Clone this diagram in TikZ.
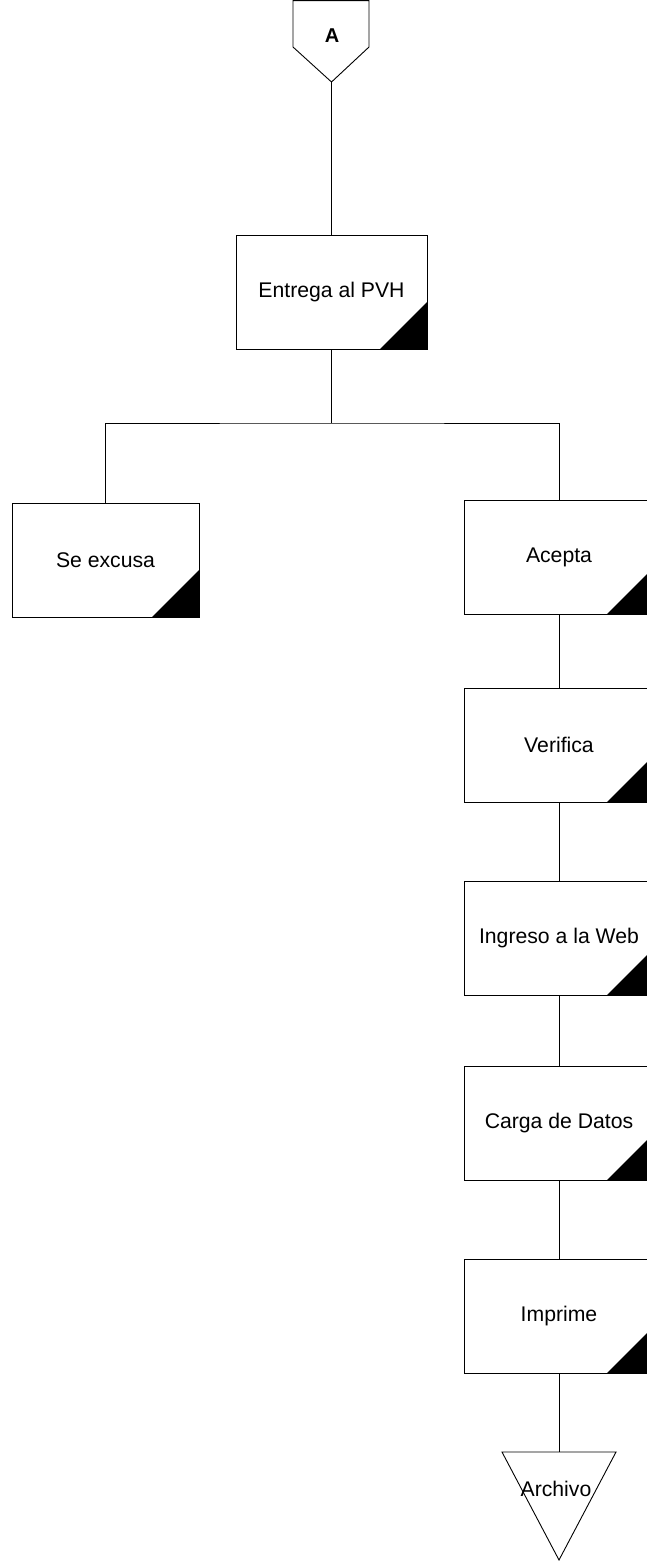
\documentclass[tikz,border=0pt]{standalone}
\usepackage{fontspec}
\setmainfont{Liberation Sans}
\begin{document}
\begin{tikzpicture}[x=1pt,y=-1pt, line width=0.9pt,
  lbl/.style={font=\fontsize{21.2}{25}\selectfont},
  stepbox/.style={draw, minimum width=190pt, minimum height=114pt,
    inner sep=0pt, lbl,
    path picture={\fill (path picture bounding box.south east) -- ++(-47pt,0pt)
      -- ++(47pt,47pt) -- cycle;}},
  link/.style={draw}]
\useasboundingbox (0,0) rectangle (647,1561);
\clip (0,0) rectangle (647,1561);

% off-page connector "A"
\draw (293,0.6) -- (369,0.6) -- (369,47) -- (331.5,82) -- (293,47) -- cycle;
\node[font=\fontsize{20}{24}\selectfont\bfseries] (A) at (332,36) {A};
\coordinate (Atip) at (331.5,82);

% process steps
\node[stepbox, minimum width=191pt] (entrega) at (331.5,292) {Entrega al PVH};
\node[stepbox, minimum width=187pt] (excusa) at (105.5,560) {Se excusa};
\node[stepbox] (acepta)   at (559,557)  {Acepta};
\node[stepbox] (verifica) at (559,745)  {Verifica};
\node[stepbox] (ingreso)  at (559,938)  {Ingreso a la Web};
\node[stepbox] (carga)    at (559,1123) {Carga de Datos};
\node[stepbox] (imprime)  at (559,1316) {Imprime};

% storage "Archivo"
\coordinate (archtop) at (559,1452);
\draw (502,1452) -- (616,1452) -- (559,1560) -- cycle;
\node[lbl] (archivo) at (556,1489) {Archivo};

% connectors
\draw[link] (Atip) -- (entrega.north);
\coordinate (branch) at (entrega.south |- 0,423);
\draw[link] (entrega.south) -- (branch);
\draw[link] (excusa.north) |- (branch) -| (acepta.north);
\draw[link] (acepta.south) -- (verifica.north);
\draw[link] (verifica.south) -- (ingreso.north);
\draw[link] (ingreso.south) -- (carga.north);
\draw[link] (carga.south) -- (imprime.north);
\draw[link] (imprime.south) -- (archtop);
\end{tikzpicture}
\end{document}
